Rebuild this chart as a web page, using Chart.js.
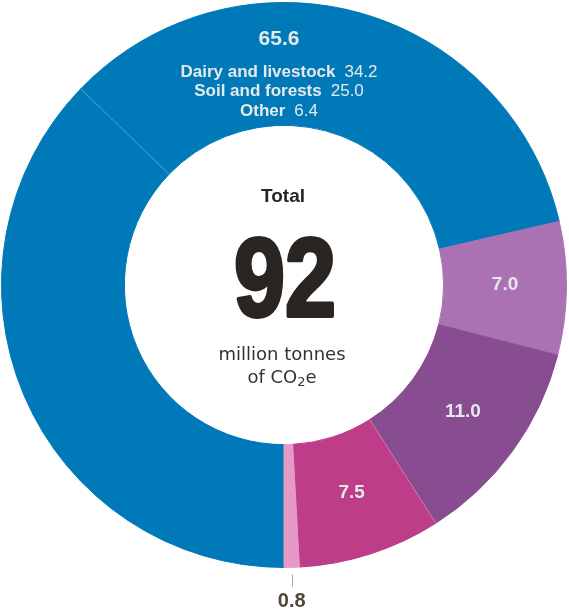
<!DOCTYPE html>
<html>
<head>
<meta charset="utf-8">
<script src="https://cdn.jsdelivr.net/npm/chart.js@4/dist/chart.umd.min.js"></script>
<style>
  html, body { margin: 0; padding: 0; background: #fff; }
  canvas { display: block; }
</style>
</head>
<body>
<canvas id="chart" width="569" height="613"></canvas>
<script>
// ring segments, clockwise from 6 o'clock (million tonnes CO2e)
var segmentNames = ['Dairy and livestock', 'Soil and forests', 'Other', '7.0', '11.0', '7.5', '0.8'];
var segmentValues = [34.2, 25.0, 6.4, 7.0, 11.0, 7.5, 0.8];
var segmentColors = ['#0079b9', '#0079b9', '#0079b9', '#aa72b3', '#884c90', '#bd3d88', '#e599c7'];

// the first three segments form one labelled group
var groupSize = 3;
var groupValueText = '65.6';
var segmentValueText = ['34.2', '25.0', '6.4', '7.0', '11.0', '7.5', '0.8'];

// segments whose trailing edge gets a faint light hairline
var hairlineAfter = [0, 4];

var totalTitle = 'Total';
var totalValueText = '92';
var unitLines = ['million tonnes', 'of CO'];

var sansBold = 'bold {s}px "Liberation Sans", Arial, sans-serif';
var sansReg = '{s}px "Liberation Sans", Arial, sans-serif';
function font(tpl, size) { return tpl.replace('{s}', size); }

var donutLabels = {
  id: 'donutLabels',
  afterDatasetsDraw: function (chart) {
    var ctx = chart.ctx;
    var arcs = chart.getDatasetMeta(0).data;
    var cx = arcs[0].x, cy = arcs[0].y, R = arcs[0].outerRadius, r0 = arcs[0].innerRadius;
    ctx.save();

    // hairlines between some neighbouring segments
    ctx.strokeStyle = 'rgba(255,255,255,0.3)';
    ctx.lineWidth = 1;
    hairlineAfter.forEach(function (k) {
      var a = arcs[k].endAngle;
      ctx.beginPath();
      ctx.moveTo(cx + Math.cos(a) * r0, cy + Math.sin(a) * r0);
      ctx.lineTo(cx + Math.cos(a) * R, cy + Math.sin(a) * R);
      ctx.stroke();
    });

    ctx.textAlign = 'center';
    ctx.textBaseline = 'alphabetic';

    // group header at the top of the ring
    var gx = cx - 5;
    ctx.fillStyle = '#e6e9ec';
    ctx.font = font(sansBold, 21);
    ctx.fillText(groupValueText, gx, cy - R + 42);
    for (var i = 0; i < groupSize; i++) {
      var y = cy - R + 74 + i * 19.5;
      ctx.font = font(sansBold, 17);
      var wName = ctx.measureText(segmentNames[i]).width;
      ctx.font = font(sansReg, 17);
      var wVal = ctx.measureText(segmentValueText[i]).width;
      var gap = 9;
      var x0 = gx - (wName + gap + wVal) / 2;
      ctx.textAlign = 'left';
      ctx.font = font(sansBold, 17);
      ctx.fillText(segmentNames[i], x0, y);
      ctx.font = font(sansReg, 17);
      ctx.fillText(segmentValueText[i], x0 + wName + gap, y);
      ctx.textAlign = 'center';
    }

    // values inside the larger segments
    ctx.font = font(sansBold, 19);
    ctx.textBaseline = 'middle';
    for (var j = groupSize; j < arcs.length - 1; j++) {
      var p = arcs[j].tooltipPosition();
      ctx.fillText(segmentValueText[j], p.x, p.y - 3);
    }

    // the thin last segment gets its value outside, with a tick
    var last = arcs[arcs.length - 1];
    var mid = (last.startAngle + last.endAngle) / 2;
    var tx = cx + Math.cos(mid) * R;
    ctx.strokeStyle = '#a9a9a9';
    ctx.beginPath();
    ctx.moveTo(Math.round(tx) + 0.5, cy + Math.sin(mid) * (R + 7));
    ctx.lineTo(Math.round(tx) + 0.5, cy + Math.sin(mid) * (R + 19));
    ctx.stroke();
    ctx.textBaseline = 'alphabetic';
    ctx.fillStyle = '#4f463d';
    ctx.font = font(sansBold, 20);
    ctx.fillText(segmentValueText[arcs.length - 1], tx, cy + R + 39);

    // centre text
    ctx.fillStyle = '#2a2521';
    ctx.font = font(sansBold, 19);
    ctx.fillText(totalTitle, cx - 1, cy - 83);

    ctx.font = 'bold 112px "Liberation Sans Narrow", "Liberation Sans", Arial, sans-serif';
    var w92 = ctx.measureText(totalValueText).width;
    ctx.save();
    ctx.translate(cx + 1, cy + 32);
    ctx.scale(Math.min(1, 102 / w92), 1);
    ctx.strokeStyle = '#2a2521';
    ctx.lineWidth = 4;
    ctx.lineJoin = 'round';
    ctx.strokeText(totalValueText, 0, -1);
    ctx.fillText(totalValueText, 0, -1);
    ctx.restore();

    ctx.fillStyle = '#38322d';
    ctx.font = '18px "DejaVu Sans", Verdana, sans-serif';
    ctx.fillText(unitLines[0], cx - 2, cy + 75);
    var wCo = ctx.measureText(unitLines[1]).width;
    ctx.font = '13px "DejaVu Sans", Verdana, sans-serif';
    var wSub = ctx.measureText('2').width;
    ctx.font = '18px "DejaVu Sans", Verdana, sans-serif';
    var wE = ctx.measureText('e').width;
    var lx = cx - 2 - (wCo + wSub + wE) / 2;
    var ly = cy + 98;
    ctx.textAlign = 'left';
    ctx.fillText(unitLines[1], lx, ly);
    ctx.font = '13px "DejaVu Sans", Verdana, sans-serif';
    ctx.fillText('2', lx + wCo, ly + 3);
    ctx.font = '18px "DejaVu Sans", Verdana, sans-serif';
    ctx.fillText('e', lx + wCo + wSub, ly);
    ctx.restore();
  }
};

new Chart(document.getElementById('chart'), {
  type: 'doughnut',
  data: {
    labels: segmentNames,
    datasets: [{
      data: segmentValues,
      backgroundColor: segmentColors,
      // borders in the fill colour close the anti-aliasing seams
      borderColor: segmentColors,
      borderWidth: 1,
      hoverOffset: 0
    }]
  },
  options: {
    responsive: false,
    animation: false,
    rotation: 180,
    cutout: '56.5%',
    layout: { padding: { left: 1, top: 2, right: 2, bottom: 45 } },
    plugins: {
      legend: { display: false },
      tooltip: { enabled: false }
    }
  },
  plugins: [donutLabels]
});
</script>
</body>
</html>
